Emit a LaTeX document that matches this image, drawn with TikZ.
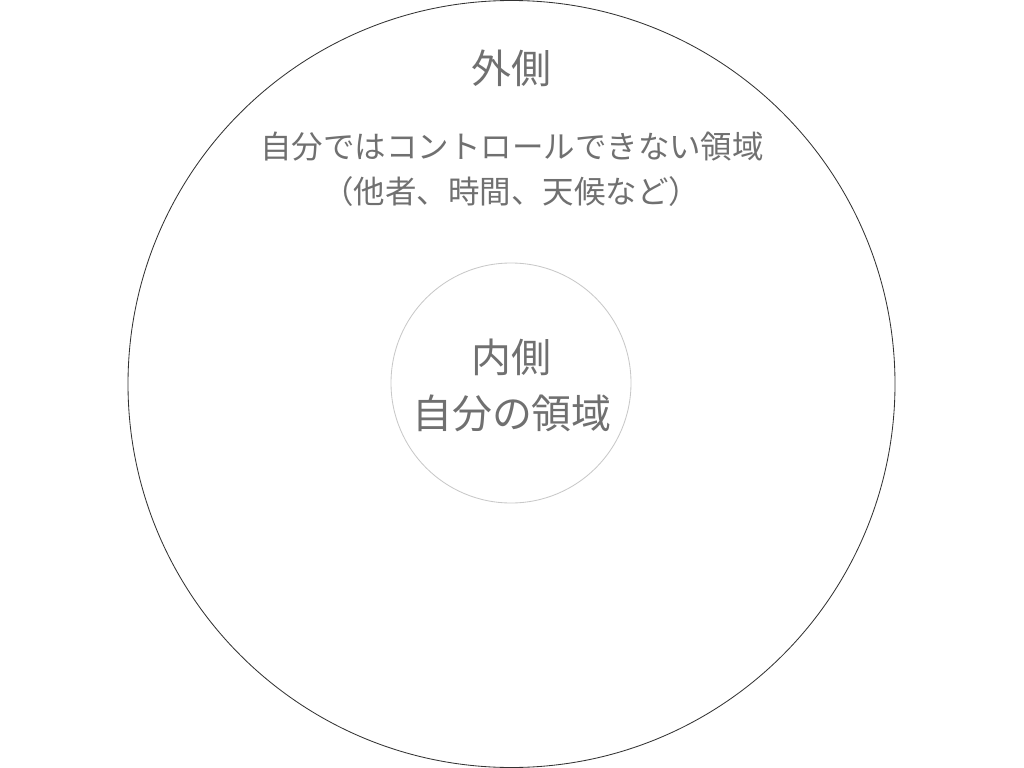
\documentclass[tikz,border=0pt]{standalone}
\usepackage{fontspec}
\setmainfont{Noto Sans CJK JP}
\definecolor{textgray}{HTML}{707070}
\definecolor{ringgray}{HTML}{C8C8C8}
\tikzset{
  bigtext/.style={text=textgray, font=\fontsize{28.4}{40}\selectfont, align=center, inner sep=0pt},
  smalltext/.style={text=textgray, font=\fontsize{22.4}{32}\selectfont, align=center, inner sep=0pt},
}
\begin{document}
\begin{tikzpicture}[x=0.025cm, y=-0.025cm]
    \useasboundingbox (0,0) rectangle (1024,768);
    \draw[black!80, line width=0.6pt] (511.5,384) circle (383.5);
    \draw[ringgray, line width=0.6pt] (511,383) circle (120);
    \node [bigtext] (outer) at (511,68) {外側};
    \node [smalltext] (outerdesc) at (512,147) {自分ではコントロールできない領域};
    \node [smalltext] (outerex) at (511,192) {（他者、時間、天候など）};
    \node [bigtext] (inner) at (511,357) {内側};
    \node [bigtext] (innerdesc) at (512,413) {自分の領域};
  \end{tikzpicture}
\end{document}
